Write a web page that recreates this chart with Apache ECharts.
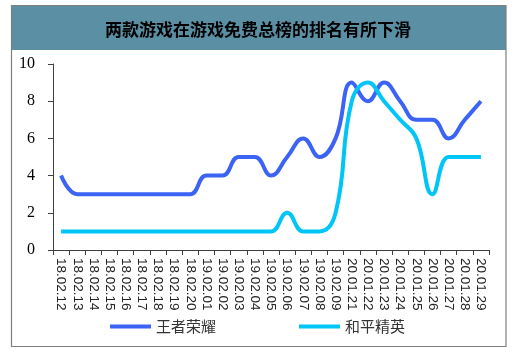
<!DOCTYPE html>
<html>
<head>
<meta charset="utf-8">
<script src="https://cdn.jsdelivr.net/npm/echarts@6/dist/echarts.min.js"></script>
<style>
html,body{margin:0;padding:0;background:#fff;}
#main{width:515px;height:353px;}
</style>
</head>
<body>
<div id="main"></div>
<script>
var titleText = '两款游戏在游戏免费总榜的排名有所下滑';
var categories = ['18.02.12','18.02.13','18.02.14','18.02.15','18.02.16','18.02.17','18.02.18','18.02.19','18.02.20',
  '19.02.01','19.02.02','19.02.03','19.02.04','19.02.05','19.02.06','19.02.07','19.02.08','19.02.09',
  '20.01.21','20.01.22','20.01.23','20.01.24','20.01.25','20.01.26','20.01.27','20.01.28','20.01.29'];
var seriesNames = ['王者荣耀','和平精英'];
var wzry = [4,3,3,3,3,3,3,3,3,4,4,5,5,4,5,6,5,6,9,8,9,8,7,7,6,7,8];
var hpjy = [1,1,1,1,1,1,1,1,1,1,1,1,1,1,2,1,1,2,8,9,8,7,6,3,5,5,5];
var yTicks = [0,2,4,6,8,10];

var chart = echarts.init(document.getElementById('main'), null, {renderer:'canvas'});
chart.setOption({
  animation:false,
  backgroundColor:'#fff',
  graphic:[
    {type:'rect', shape:{x:11,y:5,width:495,height:45}, style:{fill:'#5B8FA3'}, z:0},
    {type:'rect', shape:{x:11.5,y:5.5,width:494.5,height:341}, style:{fill:'none',stroke:'#7f7f7f',lineWidth:1.2}, z:1},
    {type:'text', x:258, y:30, style:{text:titleText, fill:'#000', font:'bold 17px "Noto Sans CJK SC"', textAlign:'center', textVerticalAlign:'middle'}, z:2}
  ],
  grid:{left:53, right:26, top:64, bottom:103, containLabel:false},
  legend:{
    data:seriesNames, bottom:14, left:'center', itemWidth:41, itemHeight:4, itemGap:83, icon:'rect',
    textStyle:{fontFamily:'"Noto Sans CJK SC"', fontSize:15, color:'#333'}
  },
  xAxis:{
    type:'category', data:categories, boundaryGap:true,
    axisLine:{lineStyle:{color:'#404040', width:1}},
    axisTick:{show:true, length:5, alignWithLabel:false, lineStyle:{color:'#404040'}},
    axisLabel:{interval:0, rotate:-90, margin:8, fontFamily:'"Liberation Sans"', fontSize:13.5, color:'#222'}
  },
  yAxis:{
    type:'value', min:0, max:10, interval:2,
    axisLine:{show:true, lineStyle:{color:'#404040', width:1}},
    axisTick:{show:true, length:5, lineStyle:{color:'#404040'}},
    splitLine:{show:false},
    axisLabel:{margin:18, fontFamily:'"Liberation Serif"', fontSize:16, color:'#000'}
  },
  series:[
    {name:seriesNames[0], type:'line', data:wzry, smooth:0.45, showSymbol:false, symbol:'none',
      lineStyle:{color:'#3B63F4', width:4}, itemStyle:{color:'#3B63F4'}},
    {name:seriesNames[1], type:'line', data:hpjy, smooth:0.45, showSymbol:false, symbol:'none',
      lineStyle:{color:'#00C5F7', width:4}, itemStyle:{color:'#00C5F7'}}
  ]
});
</script>
</body>
</html>
